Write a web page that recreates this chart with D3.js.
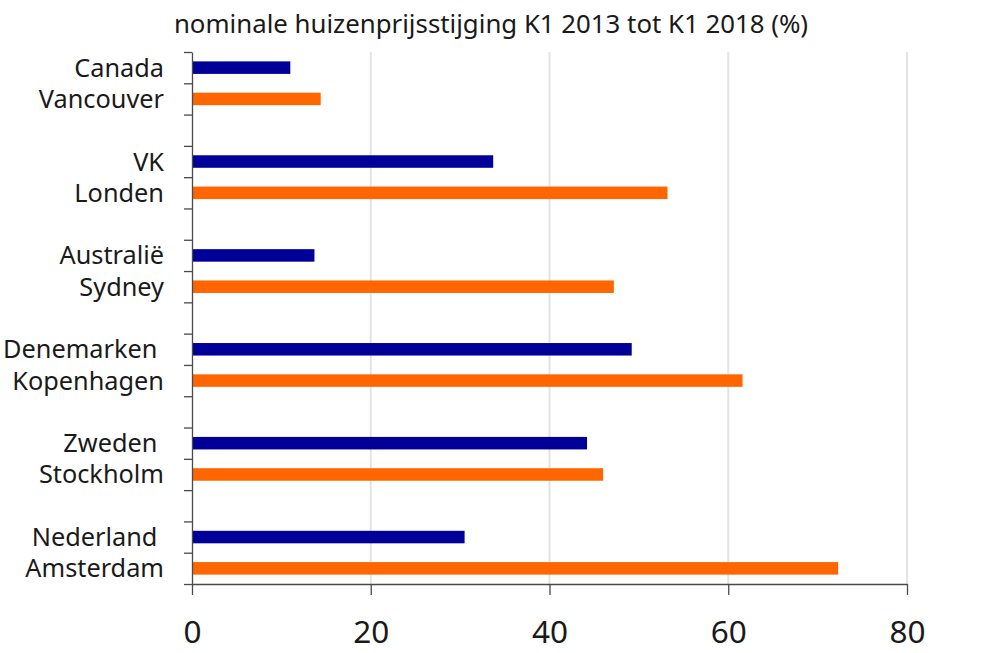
<!DOCTYPE html>
<html>
<head>
<meta charset="utf-8">
<script src="https://cdn.jsdelivr.net/npm/d3@7"></script>
<style>
  html, body { margin: 0; padding: 0; background: #fff; }
  svg { display: block; }
  text { font-family: "Noto Sans", "Open Sans", sans-serif; fill: #1a1a1a; white-space: pre; }
</style>
</head>
<body>
<svg id="chart" width="1000" height="653"></svg>
<script>
const title = "nominale huizenprijsstijging K1 2013 tot K1 2018 (%)";
const countries = ["Canada", "VK", "Australië", "Denemarken ", "Zweden ", "Nederland "];
const cities = ["Vancouver", "Londen", "Sydney", "Kopenhagen", "Stockholm", "Amsterdam"];
const countryValues = [11.0, 33.7, 13.7, 49.2, 44.2, 30.5];
const cityValues = [14.4, 53.2, 47.2, 61.6, 46.0, 72.3];
const xTicks = [0, 20, 40, 60, 80];

const colorCountry = "#000099";
const colorCity = "#ff6600";

// build slots: country, city, gap (no gap after last group)
const slots = [];
countries.forEach((c, i) => {
  slots.push({ key: "c" + i, label: c, value: countryValues[i], color: colorCountry });
  slots.push({ key: "s" + i, label: cities[i], value: cityValues[i], color: colorCity });
  if (i < countries.length - 1) slots.push({ key: "g" + i, label: null, value: null });
});

const svg = d3.select("#chart");
const mLeft = 192, mRight = 907, mTop = 52, mBottom = 584;

const x = d3.scaleLinear().domain([0, 80]).range([mLeft, mRight]);
const y = d3.scaleBand().domain(slots.map(d => d.key)).range([mTop, mBottom]).padding(0);
const bw = y.bandwidth();
const barH = bw * 0.4;

// gridlines
svg.append("g")
  .selectAll("line")
  .data(xTicks.filter(t => t > 0))
  .join("line")
  .attr("x1", d => x(d)).attr("x2", d => x(d))
  .attr("y1", mTop).attr("y2", mBottom)
  .attr("stroke", "#e3e3e3").attr("stroke-width", 2);

// bars
const bars = slots.filter(d => d.value !== null);
svg.append("g")
  .selectAll("rect")
  .data(bars)
  .join("rect")
  .attr("x", x(0))
  .attr("y", d => y(d.key) + bw / 2 - barH / 2)
  .attr("width", d => x(d.value) - x(0))
  .attr("height", barH)
  .attr("fill", d => d.color);

// y axis (ticks at slot boundaries)
const yb = d3.scaleLinear().domain([0, slots.length]).range([mTop, mBottom]);
const yAxis = svg.append("g")
  .attr("transform", `translate(${mLeft},0)`)
  .call(d3.axisLeft(yb).tickValues(d3.range(slots.length + 1)).tickFormat("").tickSize(8).tickSizeOuter(0));
yAxis.selectAll("line, path").attr("stroke", "#4a4a4a").attr("stroke-width", 1.3);

// x axis
const xAxis = svg.append("g")
  .attr("transform", `translate(0,${mBottom})`)
  .call(d3.axisBottom(x).tickValues(xTicks).tickSize(11).tickSizeOuter(0));
xAxis.selectAll("line, path").attr("stroke", "#4a4a4a").attr("stroke-width", 1.3);
xAxis.selectAll("text")
  .attr("y", 59).attr("dy", 0)
  .style("font-size", "31.5px")
  .style("font-family", "\"Noto Sans\", sans-serif")
  .attr("fill", "#1a1a1a");

// category labels
svg.append("g")
  .selectAll("text")
  .data(bars)
  .join("text")
  .attr("x", 164)
  .attr("y", d => y(d.key) + bw / 2 + 9)
  .attr("text-anchor", "end")
  .style("font-size", "25.3px")
  .text(d => d.label);

// title
svg.append("text")
  .attr("x", 491)
  .attr("y", 33)
  .attr("text-anchor", "middle")
  .style("font-size", "25.8px")
  .text(title);
</script>
</body>
</html>
